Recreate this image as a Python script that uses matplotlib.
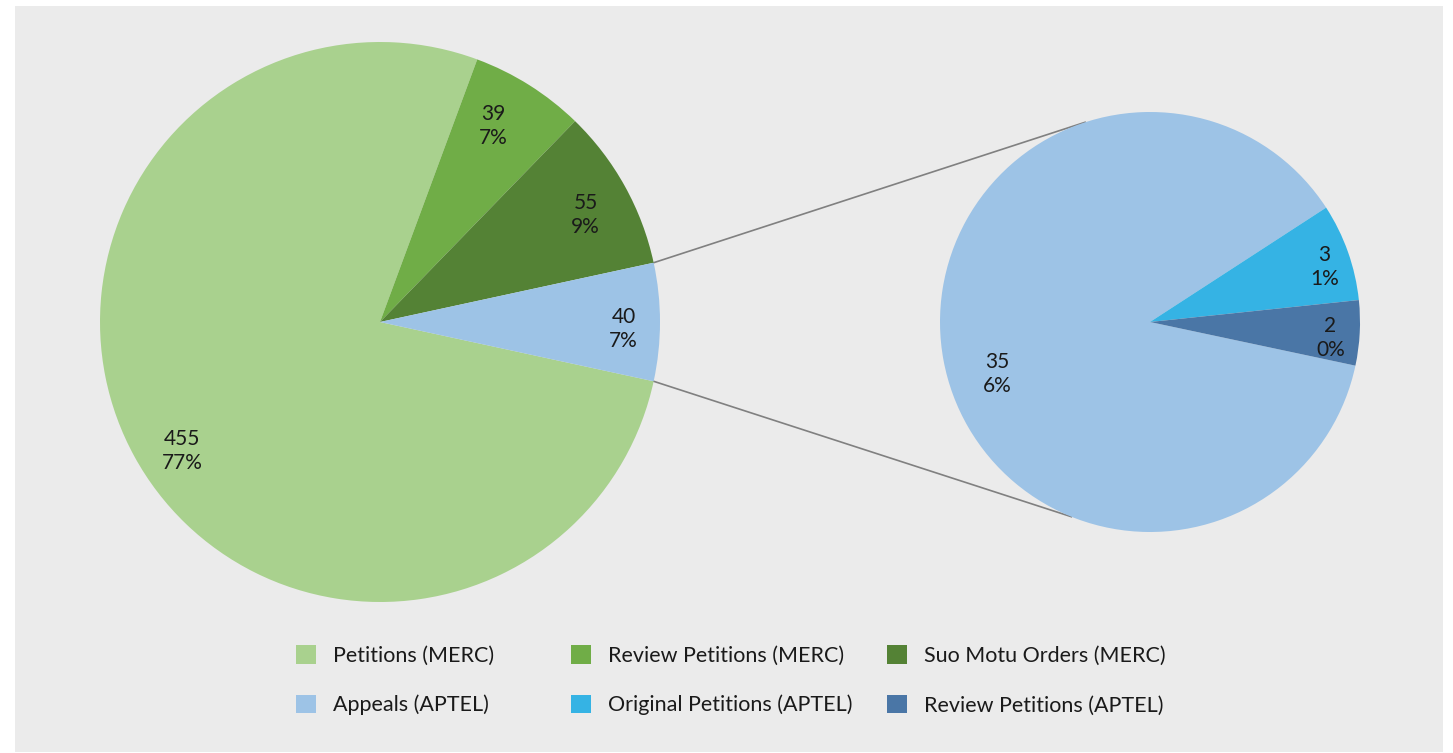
import matplotlib
matplotlib.use('Agg')
import matplotlib.pyplot as plt
from matplotlib.patches import Patch, Rectangle
import numpy as np

plt.rcParams['font.family'] = ['Lato', 'DejaVu Sans']

# Main pie (MERC + aggregated APTEL)
main_labels = ['Petitions (MERC)', 'Review Petitions (MERC)', 'Suo Motu Orders (MERC)', 'Appeals (APTEL)']
main_values = [455, 39, 55, 40]
main_colors = ['#a9d18e', '#70ad47', '#548235', '#9dc3e6']

# Breakout pie (APTEL)
sub_labels = ['Appeals (APTEL)', 'Original Petitions (APTEL)', 'Review Petitions (APTEL)']
sub_values = [35, 3, 2]
sub_colors = ['#9dc3e6', '#35b3e4', '#4a76a6']

legend_cols = [
    ['Petitions (MERC)', 'Appeals (APTEL)'],
    ['Review Petitions (MERC)', 'Original Petitions (APTEL)'],
    ['Suo Motu Orders (MERC)', 'Review Petitions (APTEL)'],
]
color_of = dict(zip(main_labels + sub_labels, main_colors + sub_colors))

total = sum(main_values[:3]) + sum(sub_values)

def lab(v):
    return f'{v}\n{round(100 * v / total):.0f}%'

def place_labels(wedges, texts, dists, shifts):
    # put each label at its own fraction of the radius along the wedge's mid angle
    for w, t, d, s in zip(wedges, texts, dists, shifts):
        mid = np.radians((w.theta1 + w.theta2) / 2 + s)
        cx, cy = w.center
        t.set_position((cx + d * w.r * np.cos(mid), cy + d * w.r * np.sin(mid) - 0.025))
        t.set_horizontalalignment('center')
        t.set_linespacing(1.25)

fig = plt.figure(figsize=(14.53, 7.53), dpi=100)
fig.patch.set_facecolor('white')
fig.add_artist(Rectangle((15 / 1453, 1 / 753), 1428 / 1453, 746 / 753,
                         transform=fig.transFigure, facecolor='#ebebeb',
                         edgecolor='none', zorder=-5))

ax = fig.add_axes([0, 0, 1, 1])
ax.set_zorder(1)
ax.set_facecolor('none')
ax.axis('off')

sub_center = 2.75
sub_radius = 0.75
tp = dict(fontsize=15, color='#1a1a1a', ha='center', va='center')

# left pie
appeal_span = 360 * main_values[3] / sum(main_values)
start = -appeal_span / 2
wedges, texts = ax.pie(main_values, colors=main_colors, startangle=start,
                       counterclock=False, radius=1, center=(0, 0),
                       labels=[lab(v) for v in main_values], textprops=tp)
place_labels(wedges, texts, [0.83, 0.83, 0.84, 0.87], [3, 3, 0, 0])

# right pie
wedges2, texts2 = ax.pie(sub_values, colors=sub_colors, startangle=-12,
                         counterclock=False, radius=sub_radius, center=(sub_center, 0),
                         labels=[lab(v) for v in sub_values], textprops=tp)
place_labels(wedges2, texts2, [0.76, 0.88, 0.86], [6, 0, 0])

# connector lines
a = np.radians(appeal_span / 2)
for sgn, ang in [(1, 108), (-1, -112)]:
    x1, y1 = np.cos(a), sgn * np.sin(a)
    x2 = sub_center + sub_radius * np.cos(np.radians(ang))
    y2 = sub_radius * np.sin(np.radians(ang))
    ax.plot([x1, x2], [y1, y2], color='#808080', lw=1.2, zorder=0.5)

ax.set_xlim(-380 / 280, 1073 / 280)
ax.set_ylim(-431 / 280, 322 / 280)
ax.set_aspect('auto')

# legend, three columns
col_x = [296 / 1453, 571 / 1453, 887 / 1453]
for cx, names in zip(col_x, legend_cols):
    handles = [Patch(facecolor=color_of[n], edgecolor='none') for n in names]
    leg = fig.legend(handles, names, loc='upper left', bbox_to_anchor=(cx, 1 - 645 / 753),
                     frameon=False, fontsize=15.5, handlelength=0.95, handleheight=0.95,
                     handletextpad=0.75, labelspacing=1.35, borderpad=0, borderaxespad=0)
    leg.set_zorder(2)
    for t in leg.get_texts():
        t.set_color('#1a1a1a')

fig.savefig('out.png', dpi=100)
